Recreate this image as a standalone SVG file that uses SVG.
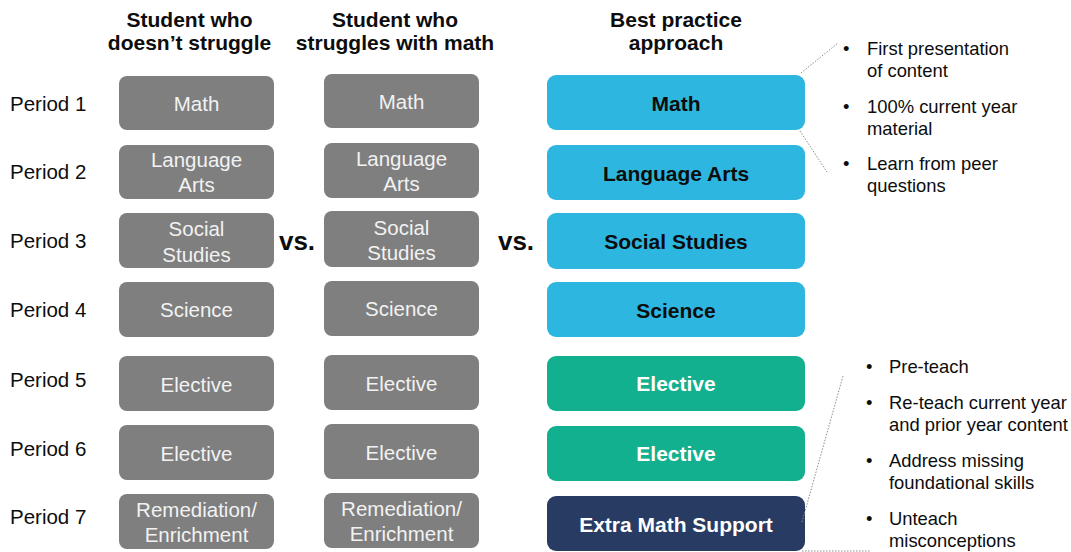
<svg xmlns="http://www.w3.org/2000/svg" width="1071" height="552" viewBox="0 0 1071 552">
<style>
text{font-family:"Liberation Sans",Arial,sans-serif;}
.hdr{font-size:21px;font-weight:bold;fill:#0d0d0d;text-anchor:middle;}
.per{font-size:20.5px;fill:#0d0d0d;}
.gray rect{fill:#7f7f7f;}
.gray text{font-size:20.5px;fill:#f2f2f2;text-anchor:middle;}
.blue rect{fill:#2db7e0;}
.green rect{fill:#12b08e;}
.navy rect{fill:#283b62;}
.best text{font-size:21px;font-weight:bold;text-anchor:middle;}
.blue text{fill:#0d0d0d;}
.green text,.navy text{fill:#ffffff;}
.vs{font-size:26px;font-weight:bold;fill:#0d0d0d;text-anchor:middle;}
.bul{font-size:18.4px;fill:#0d0d0d;}
.dot{stroke:#8c8c8c;stroke-width:1;stroke-dasharray:1.5 1.5;fill:none;}
</style>

<g id="headers">
<text class="hdr" x="189.5" y="27">Student who</text>
<text class="hdr" x="189.5" y="50">doesn’t struggle</text>
<text class="hdr" x="395" y="27">Student who</text>
<text class="hdr" x="395" y="50">struggles with math</text>
<text class="hdr" x="676" y="27">Best practice</text>
<text class="hdr" x="676" y="50">approach</text>
</g>

<g id="periods">
<text class="per" x="10" y="111">Period 1</text>
<text class="per" x="10" y="179">Period 2</text>
<text class="per" x="10" y="248">Period 3</text>
<text class="per" x="10" y="317">Period 4</text>
<text class="per" x="10" y="387">Period 5</text>
<text class="per" x="10" y="456">Period 6</text>
<text class="per" x="10" y="524">Period 7</text>
</g>

<g id="vs-labels">
<text class="vs" x="297" y="250">vs.</text>
<text class="vs" x="516" y="250">vs.</text>
</g>

<!-- Column 1 -->
<g id="c1-math" class="gray"><rect x="119" y="76" width="155" height="54" rx="8"/><text x="196.5" y="110.5">Math</text></g>
<g id="c1-la" class="gray"><rect x="119" y="145" width="155" height="54" rx="8"/><text x="196.5" y="167">Language</text><text x="196.5" y="192">Arts</text></g>
<g id="c1-ss" class="gray"><rect x="119" y="213" width="155" height="55" rx="8"/><text x="196.5" y="236">Social</text><text x="196.5" y="261.5">Studies</text></g>
<g id="c1-sci" class="gray"><rect x="119" y="282" width="155" height="55" rx="8"/><text x="196.5" y="317">Science</text></g>
<g id="c1-el1" class="gray"><rect x="119" y="356" width="155" height="55" rx="8"/><text x="196.5" y="391.5">Elective</text></g>
<g id="c1-el2" class="gray"><rect x="119" y="425" width="155" height="55" rx="8"/><text x="196.5" y="460.5">Elective</text></g>
<g id="c1-rem" class="gray"><rect x="119" y="494" width="155" height="55" rx="8"/><text x="196.5" y="517">Remediation/</text><text x="196.5" y="542">Enrichment</text></g>

<!-- Column 2 -->
<g id="c2-math" class="gray"><rect x="324" y="74" width="155" height="54" rx="8"/><text x="401.5" y="108.5">Math</text></g>
<g id="c2-la" class="gray"><rect x="324" y="143" width="155" height="55" rx="8"/><text x="401.5" y="165.5">Language</text><text x="401.5" y="190.5">Arts</text></g>
<g id="c2-ss" class="gray"><rect x="324" y="211" width="155" height="56" rx="8"/><text x="401.5" y="234.5">Social</text><text x="401.5" y="260">Studies</text></g>
<g id="c2-sci" class="gray"><rect x="324" y="281" width="155" height="55" rx="8"/><text x="401.5" y="316">Science</text></g>
<g id="c2-el1" class="gray"><rect x="324" y="355" width="155" height="55" rx="8"/><text x="401.5" y="390.5">Elective</text></g>
<g id="c2-el2" class="gray"><rect x="324" y="424" width="155" height="55" rx="8"/><text x="401.5" y="459.5">Elective</text></g>
<g id="c2-rem" class="gray"><rect x="324" y="493" width="155" height="55" rx="8"/><text x="401.5" y="516">Remediation/</text><text x="401.5" y="541">Enrichment</text></g>

<!-- Column 3 -->
<g id="c3-math" class="best blue"><rect x="547" y="75" width="258" height="55" rx="9"/><text x="676" y="110.5">Math</text></g>
<g id="c3-la" class="best blue"><rect x="547" y="145" width="258" height="55" rx="9"/><text x="676" y="180.5">Language Arts</text></g>
<g id="c3-ss" class="best blue"><rect x="547" y="213" width="258" height="56" rx="9"/><text x="676" y="248.5">Social Studies</text></g>
<g id="c3-sci" class="best blue"><rect x="547" y="282" width="258" height="55" rx="9"/><text x="676" y="317.5">Science</text></g>
<g id="c3-el1" class="best green"><rect x="547" y="356" width="258" height="55" rx="9"/><text x="676" y="391">Elective</text></g>
<g id="c3-el2" class="best green"><rect x="547" y="426" width="258" height="55" rx="9"/><text x="676" y="461">Elective</text></g>
<g id="c3-extra" class="best navy"><rect x="547" y="496" width="258" height="55" rx="9"/><text x="676" y="531.5">Extra Math Support</text></g>

<g id="connectors">
<line class="dot" x1="801" y1="73" x2="838" y2="43"/>
<line class="dot" x1="800" y1="131" x2="827" y2="172"/>
<line class="dot" x1="802" y1="522" x2="843" y2="376"/>
<line class="dot" x1="802" y1="551" x2="870" y2="551"/>
</g>

<g id="notes-top">
<text class="bul" x="843" y="55">•</text>
<text class="bul" x="867" y="55">First presentation</text>
<text class="bul" x="867" y="77">of content</text>
<text class="bul" x="843" y="113">•</text>
<text class="bul" x="867" y="113">100% current year</text>
<text class="bul" x="867" y="135">material</text>
<text class="bul" x="843" y="170">•</text>
<text class="bul" x="867" y="170">Learn from peer</text>
<text class="bul" x="867" y="192">questions</text>
</g>

<g id="notes-bottom">
<text class="bul" x="866" y="373">•</text>
<text class="bul" x="889" y="373">Pre-teach</text>
<text class="bul" x="866" y="409">•</text>
<text class="bul" x="889" y="409">Re-teach current year</text>
<text class="bul" x="889" y="431">and prior year content</text>
<text class="bul" x="866" y="467">•</text>
<text class="bul" x="889" y="467">Address missing</text>
<text class="bul" x="889" y="489">foundational skills</text>
<text class="bul" x="866" y="525">•</text>
<text class="bul" x="889" y="525">Unteach</text>
<text class="bul" x="889" y="547">misconceptions</text>
</g>
</svg>
